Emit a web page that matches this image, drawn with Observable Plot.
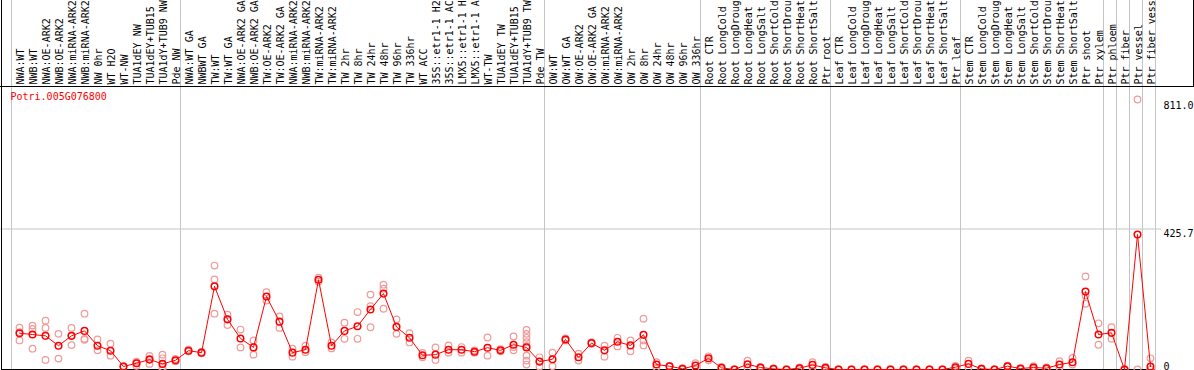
<!DOCTYPE html>
<html><head><meta charset="utf-8">
<script src="https://cdn.jsdelivr.net/npm/d3@7"></script>
<script src="https://cdn.jsdelivr.net/npm/@observablehq/plot@0.6"></script>
<style>html,body{margin:0;padding:0;background:#fff;} #chart svg{display:block}</style>
</head><body><div id="chart"></div>
<script>
const geneId = "Potri.005G076800";
const labels = [
  "NWA:WT","NWB:WT","NWA:OE-ARK2","NWB:OE-ARK2","NWA:miRNA-ARK2","NWB:miRNA-ARK2","NW 0hr","WT H2O","WT-NW","TUA1dEY NW","TUA1dEY+TUB15","TUA1dY+TUB9 NW","Pde NW",
  "NWA:WT GA","NWBWT GA","TW:WT","TW:WT GA","NWA:OE-ARK2 GA","NWB:OE-ARK2 GA","TW:OE-ARK2","TW:OE-ARK2 GA","NWA:miRNA-ARK2","NWB:miRNA-ARK2","TW:miRNA-ARK2","TW:miRNA-ARK2","TW 2hr","TW 8hr","TW 24hr","TW 48hr","TW 96hr","TW 336hr","WT ACC","35S::etr1-1 H2","35S::etr1-1 AC","LMX5::etr1-1 H","LMX5::etr1-1 A","WT-TW","TUA1dEY TW","TUA1dEY+TUB15","TUA1dY+TUB9 TW","Pde TW",
  "OW:WT","OW:WT GA","OW:OE-ARK2","OW:OE-ARK2 GA","OW:miRNA-ARK2","OW:miRNA-ARK2","OW 2hr","OW 8hr","OW 24hr","OW 48hr","OW 96hr","OW 336hr",
  "Root CTR","Root LongCold","Root LongDroug","Root LongHeat","Root LongSalt","Root ShortCold","Root ShortDrou","Root ShortHeat","Root ShortSalt","Ptr root",
  "Leaf CTR","Leaf LongCold","Leaf LongDroug","Leaf LongHeat","Leaf LongSalt","Leaf ShortCold","Leaf ShortDrou","Leaf ShortHeat","Leaf ShortSalt","Ptr leaf",
  "Stem CTR","Stem LongCold","Stem LongDroug","Stem LongHeat","Stem LongSalt","Stem ShortCold","Stem ShortDrou","Stem ShortHeat","Stem ShortSalt","Ptr shoot","Ptr xylem",
  "Ptr phloem","Ptr fiber","Ptr vessel","Ptr fiber vess"
];
const means = [
  110,106,102,72,102,117,72,57,9,19,30,17,28,
  57,51,252,152,94,67,221,145,51,60,272,72,117,131,182,230,129,96,43,45,60,60,54,66,58,75,67,24,
  31,91,37,80,58,84,73,105,15,10,2,12,
  34,5,0,16,6,2,0,4,14,5,
  0,0,0,0,0,0,0,0,0,7,
  17,2,0,10,3,6,4,15,22,236,106,
  111,0,409,9
];
const reps = [
  [127,113,88],[133,123,63],[148,126,29],[108,33],[126,102,74],[169,93,90],[91,58],[78,42],[10,8],[24,19,11],[41,32,17],[45,34,17,7,0],[32,25],
  [60,55],[53,49],[315,273,169],[166,152,135],[121,67],[88,45],[234,209],[161,126],[63,39],[72,52],[278,266],[82,64],[142,93],[174,93],[227,192,128],[257,245,184],[152,108],[110,82],[50,37],[67,29],[73,51],[68,51],[58,51],[97,42],[62,55],[100,68,58],[120,108,96,83,71,42,27,15],[37,24,9],
  [51,10],[94,88],[48,27],[82,78],[72,39],[96,70],[88,55],[154,88,73],[22,7],[11,9],[4,0],[19,5],
  [40,28],[8,1],[0,0],[27,5],[8,4],[3,0],[0,0],[6,1],[22,6],[8,2],
  [0,0],[0,0],[0,0],[0,0],[0,0],[0,0],[0,0],[0,0],[0,0],[11,3],
  [27,5],[3,0],[0,0],[12,8],[3,0],[10,2],[6,1],[25,6],[35,15],[282,224,199],[140,75],
  [128,93],[0,0],[818,0],[34,0,0]
];
const groupStarts = [0, 13, 41, 53, 63, 73, 84, 85, 86, 87, 88];
const yTicks = [0, 425.7, 811.0];
const yMax = 851.4;

const meanRows = means.map((v, i) => ({i, v}));
const repRows = reps.flatMap((arr, i) => arr.map(v => ({i, v})));
const xOff = 8 / 13;
const red = "#ff0000", pink = "#f09a9a", grid = "#c4c4c4";

const chart = Plot.plot({
  width: 1194, height: 370,
  marginTop: 88, marginBottom: 1, marginLeft: 11, marginRight: 39,
  style: {fontFamily: "'DejaVu Sans Mono', monospace", fontSize: "10px", background: "#fff", color: "#000"},
  x: {domain: [-xOff, labels.length - xOff], axis: null},
  y: {domain: [0, yMax], axis: null},
  marks: [
    Plot.ruleX(groupStarts.map(g => g - xOff), {stroke: grid, insetTop: -88, insetBottom: -1}),
    Plot.ruleY([yTicks[1]], {stroke: grid, insetLeft: -11, insetRight: -6}),
    Plot.ruleY([0], {stroke: "#000", insetLeft: -10}),
    Plot.ruleY([yMax], {stroke: "#000", dy: -2, insetLeft: -11, insetRight: -39}),
    Plot.ruleX([-xOff], {stroke: "#000", dx: -10, insetTop: -88, insetBottom: -1}),
    Plot.ruleX([labels.length - xOff], {stroke: "#000", dx: 38, insetTop: -88, insetBottom: 283}),
    Plot.text(labels, {x: (d, i) => i, text: d => d, frameAnchor: "top", rotate: -90, textAnchor: "start", lineAnchor: "middle", dy: -4, dx: 1, fill: "#000"}),
    Plot.text([geneId], {text: d => d, frameAnchor: "top-left", textAnchor: "start", lineAnchor: "top", dx: -1, dy: 4.5, fill: red}),
    Plot.text(yTicks.slice(1), {y: d => d, text: d => d.toFixed(1), frameAnchor: "right", textAnchor: "start", lineAnchor: "top", dx: 8, dy: 0.5, fill: "#000"}),
    Plot.text(yTicks.slice(0, 1), {y: d => d, text: d => String(d), frameAnchor: "right", textAnchor: "start", lineAnchor: "bottom", dx: 8, fill: "#000"}),
    Plot.dot(repRows, {x: "i", y: "v", r: 3.3, stroke: pink, strokeWidth: 1.2, fill: "none"}),
    Plot.line(meanRows, {x: "i", y: "v", stroke: red, strokeWidth: 1}),
    Plot.dot(meanRows, {x: "i", y: "v", r: 3.3, stroke: red, strokeWidth: 1.5, fill: "none"})
  ]
});
document.getElementById("chart").append(chart);
</script>
</body></html>
